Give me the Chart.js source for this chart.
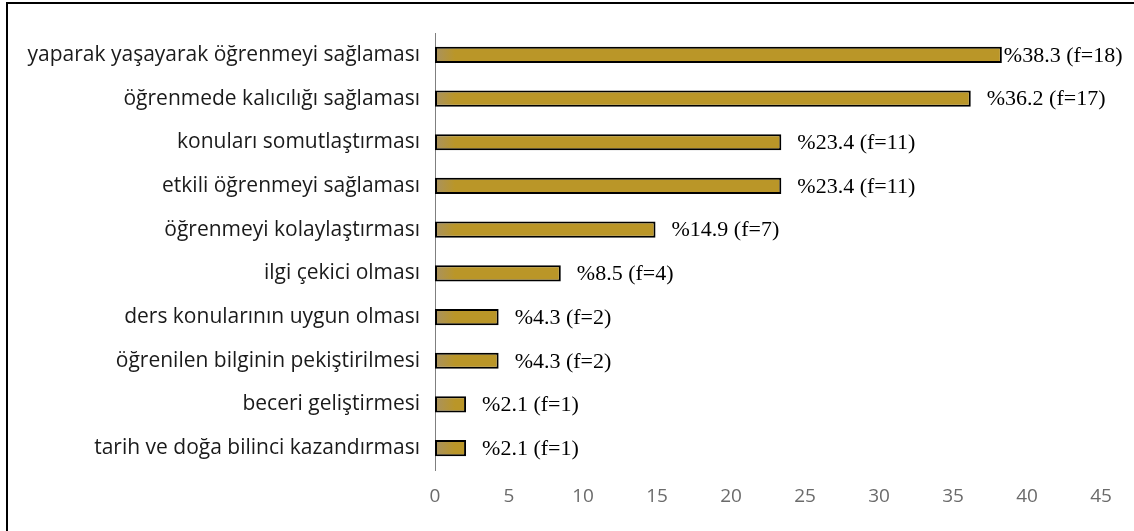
<!DOCTYPE html>
<html>
<head>
<meta charset="utf-8">
<script src="https://cdn.jsdelivr.net/npm/chart.js@4"></script>
<style>
  body { margin: 0; background: #fff; }
  #wrap { position: relative; width: 1134px; height: 531px; }
</style>
</head>
<body>
<div id="wrap"><canvas id="myChart" width="1134" height="531"></canvas></div>
<script>
// categories top to bottom
const categories = [
    'yaparak yaşayarak öğrenmeyi sağlaması',
    'öğrenmede kalıcılığı sağlaması',
    'konuları somutlaştırması',
    'etkili öğrenmeyi sağlaması',
    'öğrenmeyi kolaylaştırması',
    'ilgi çekici olması',
    'ders konularının uygun olması',
    'öğrenilen bilginin pekiştirilmesi',
    'beceri geliştirmesi',
    'tarih ve doğa bilinci kazandırması'
];
const percents = [38.3, 36.2, 23.4, 23.4, 14.9, 8.5, 4.3, 4.3, 2.1, 2.1];
const freqs = [18, 17, 11, 11, 7, 4, 2, 2, 1, 1];
const xTicks = [0, 5, 10, 15, 20, 25, 30, 35, 40, 45];

// frame lines (left + top only, the rest is cropped in the original)
const framePlugin = {
    id: 'frame',
    beforeDraw(chart) {
        const ctx = chart.ctx;
        ctx.save();
        ctx.fillStyle = '#fff';
        ctx.fillRect(0, 0, chart.width, chart.height);
        ctx.strokeStyle = '#000';
        ctx.lineWidth = 2;
        ctx.beginPath();
        ctx.moveTo(7, chart.height);
        ctx.lineTo(7, 3);
        ctx.lineTo(chart.width, 3);
        ctx.stroke();
        ctx.restore();
    }
};

// "%38.3 (f=18)" labels at the bar ends
const valueLabels = {
    id: 'valueLabels',
    afterDatasetsDraw(chart) {
        const ctx = chart.ctx;
        const meta = chart.getDatasetMeta(0);
        ctx.save();
        ctx.font = '22px "Liberation Serif", "Times New Roman", serif';
        ctx.fillStyle = '#000';
        ctx.textBaseline = 'middle';
        ctx.textAlign = 'left';
        meta.data.forEach((bar, i) => {
            const txt = '%' + percents[i].toFixed(1) + ' (f=' + freqs[i] + ')';
            const w = ctx.measureText(txt).width;
            let off = 16;
            if (bar.x + off + w > chart.width - 12) off = Math.max(2, chart.width - 12 - w - bar.x);
            ctx.fillText(txt, bar.x + off, bar.y + 1);
        });
        ctx.restore();
    }
};

const ctx = document.getElementById('myChart').getContext('2d');
const myChart = new Chart(ctx, {
    type: 'bar',
    data: {
        labels: categories,
        datasets: [{
            data: percents,
            backgroundColor: function(c) {
                const area = c.chart.chartArea;
                if (!area) return '#BA9628';
                const g = c.chart.ctx.createLinearGradient(area.left, 0, area.left + 20, 0);
                g.addColorStop(0, '#a99260');
                g.addColorStop(1, '#BA9628');
                return g;
            },
            borderColor: '#000',
            borderWidth: 2,
            borderSkipped: false,
            barPercentage: 0.37,
            categoryPercentage: 1.0
        }]
    },
    options: {
        indexAxis: 'y',
        responsive: false,
        animation: false,
        layout: { padding: { left: 0, top: 33, right: 33, bottom: 0 } },
        plugins: {
            legend: { display: false },
            tooltip: { enabled: false }
        },
        scales: {
            x: {
                min: 0,
                max: 45,
                afterBuildTicks: function(scale) {
                    scale.ticks = xTicks.map(v => ({ value: v }));
                },
                grid: { display: false, drawTicks: false },
                border: { display: false },
                ticks: {
                    color: '#6b6b6b',
                    padding: 15,
                    font: { family: '"Open Sans", sans-serif', size: 19 }
                },
                afterFit: function(scale) { scale.height = 61; }
            },
            y: {
                grid: { display: false, drawTicks: false },
                border: { display: true, color: '#7f7f7f', width: 1 },
                ticks: {
                    color: '#1a1a1a',
                    padding: 15,
                    autoSkip: false,
                    font: { family: '"Open Sans", sans-serif', size: 21 }
                },
                afterFit: function(scale) { scale.width = 435; }
            }
        }
    },
    plugins: [framePlugin, valueLabels]
});
</script>
</body>
</html>
